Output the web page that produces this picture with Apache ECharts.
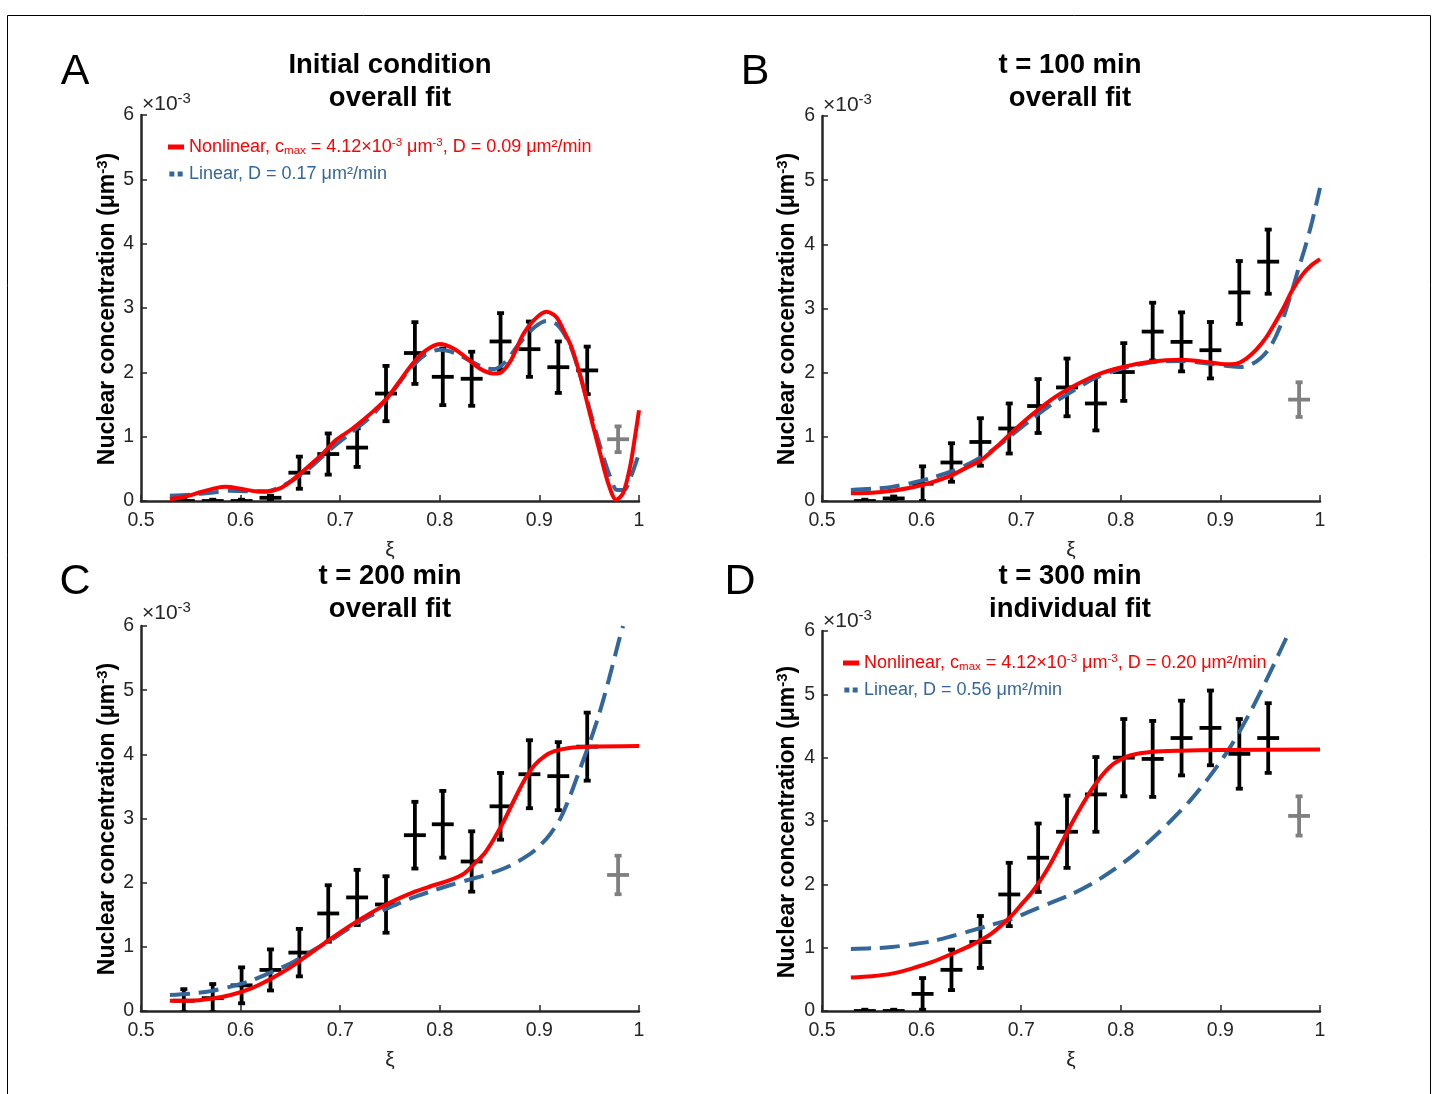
<!DOCTYPE html>
<html>
<head>
<meta charset="utf-8">
<script src="https://cdn.jsdelivr.net/npm/echarts@6/dist/echarts.min.js"></script>
<style>
html,body{margin:0;padding:0;background:#fff;}
#chart{width:1437px;height:1094px;}
</style>
</head>
<body>
<div id="chart"></div>
<script>
// ---- data ----
const xi = [0.543,0.572,0.601,0.630,0.659,0.688,0.717,0.746,0.775,0.803,0.832,0.861,0.890,0.919,0.948];
const xiOut = 0.979;
const xErr = 0.011;

const yA   = [0.00,0.00,0.00,0.05,0.44,0.73,0.83,1.67,2.30,1.93,1.90,2.48,2.36,2.08,2.03];
const errA = [0.02,0.02,0.02,0.03,0.25,0.32,0.30,0.43,0.48,0.44,0.42,0.44,0.43,0.40,0.37];
const outA = [0.96,0.20];

const yB   = [0.00,0.04,0.27,0.60,0.92,1.13,1.48,1.77,1.52,2.01,2.64,2.48,2.35,3.25,3.73];
const errB = [0.02,0.03,0.27,0.30,0.37,0.39,0.42,0.45,0.42,0.45,0.45,0.46,0.44,0.49,0.50];
const outB = [1.58,0.27];

const yC   = [0.16,0.20,0.40,0.64,0.91,1.52,1.77,1.66,2.74,2.91,2.33,3.19,3.69,3.66,4.12];
const errC = [0.18,0.22,0.28,0.32,0.37,0.44,0.43,0.44,0.52,0.52,0.47,0.52,0.53,0.53,0.53];
const outC = [2.12,0.30];

const yD   = [0.00,0.00,0.27,0.65,1.09,1.84,2.42,2.83,3.42,4.00,3.98,4.31,4.47,4.06,4.31];
const errD = [0.02,0.02,0.25,0.32,0.41,0.50,0.54,0.57,0.59,0.61,0.60,0.59,0.59,0.55,0.55];
const outD = [3.08,0.31];

const nonlinA = [[0.529,0.03],[0.545,0.07],[0.56,0.14],[0.575,0.2],[0.585,0.22],[0.60,0.19],[0.615,0.15],[0.625,0.145],[0.64,0.2],[0.65,0.3],[0.66,0.43],[0.68,0.7],[0.696,0.95],[0.71,1.1],[0.723,1.26],[0.735,1.42],[0.747,1.6],[0.76,1.87],[0.773,2.14],[0.785,2.33],[0.80,2.44],[0.815,2.36],[0.827,2.22],[0.84,2.06],[0.85,1.99],[0.858,1.98],[0.87,2.15],[0.884,2.6],[0.895,2.82],[0.907,2.94],[0.917,2.86],[0.924,2.66],[0.932,2.4],[0.941,1.95],[0.95,1.4],[0.96,0.8],[0.969,0.28],[0.977,0.02],[0.984,0.12],[0.991,0.53],[0.996,1.0],[1.0,1.41]];
const linA = [[0.529,0.08],[0.55,0.1],[0.57,0.13],[0.59,0.16],[0.61,0.15],[0.625,0.15],[0.64,0.22],[0.655,0.35],[0.67,0.52],[0.69,0.8],[0.71,1.05],[0.73,1.3],[0.75,1.65],[0.77,2.05],[0.785,2.27],[0.80,2.35],[0.815,2.3],[0.83,2.18],[0.845,2.07],[0.855,2.05],[0.865,2.15],[0.88,2.45],[0.895,2.7],[0.907,2.8],[0.918,2.74],[0.93,2.45],[0.94,2.0],[0.95,1.45],[0.96,0.9],[0.97,0.42],[0.978,0.17],[0.985,0.17],[0.992,0.38],[1.0,0.74]];

const nonlinB = [[0.529,0.12],[0.55,0.13],[0.57,0.16],[0.59,0.21],[0.61,0.29],[0.63,0.4],[0.645,0.52],[0.66,0.64],[0.675,0.84],[0.69,1.06],[0.705,1.27],[0.72,1.46],[0.735,1.63],[0.75,1.77],[0.775,1.96],[0.80,2.08],[0.83,2.17],[0.86,2.2],[0.89,2.16],[0.905,2.13],[0.916,2.14],[0.926,2.22],[0.936,2.36],[0.946,2.55],[0.955,2.78],[0.963,3.0],[0.972,3.28],[0.982,3.52],[0.991,3.67],[1.0,3.77]];
const linB = [[0.529,0.17],[0.55,0.19],[0.57,0.22],[0.59,0.28],[0.61,0.36],[0.63,0.46],[0.65,0.6],[0.67,0.78],[0.69,1.02],[0.71,1.27],[0.73,1.5],[0.75,1.7],[0.775,1.92],[0.80,2.06],[0.83,2.16],[0.86,2.18],[0.89,2.14],[0.91,2.1],[0.92,2.09],[0.93,2.12],[0.94,2.22],[0.95,2.4],[0.96,2.72],[0.97,3.18],[0.978,3.6],[0.985,3.95],[0.992,4.35],[1.0,4.88]];

const nonlinC = [[0.529,0.16],[0.55,0.16],[0.57,0.19],[0.59,0.25],[0.61,0.35],[0.63,0.5],[0.65,0.68],[0.67,0.9],[0.69,1.12],[0.71,1.33],[0.73,1.52],[0.75,1.69],[0.775,1.86],[0.79,1.94],[0.81,2.04],[0.825,2.15],[0.835,2.3],[0.845,2.46],[0.855,2.7],[0.865,2.98],[0.875,3.3],[0.885,3.6],[0.895,3.83],[0.905,3.97],[0.915,4.05],[0.93,4.1],[0.95,4.12],[1.0,4.13]];
const linC = [[0.529,0.25],[0.55,0.27],[0.57,0.31],[0.59,0.38],[0.61,0.47],[0.63,0.6],[0.65,0.74],[0.67,0.92],[0.69,1.1],[0.71,1.3],[0.73,1.48],[0.75,1.62],[0.77,1.75],[0.79,1.86],[0.81,1.96],[0.83,2.05],[0.85,2.14],[0.87,2.26],[0.89,2.44],[0.90,2.57],[0.91,2.74],[0.92,2.97],[0.93,3.32],[0.94,3.74],[0.95,4.16],[0.96,4.63],[0.97,5.18],[0.98,5.78],[0.984,6.0]];

const nonlinD = [[0.529,0.53],[0.55,0.55],[0.57,0.59],[0.59,0.67],[0.61,0.77],[0.63,0.9],[0.65,1.04],[0.67,1.22],[0.69,1.5],[0.70,1.68],[0.71,1.86],[0.72,2.08],[0.73,2.34],[0.74,2.64],[0.75,2.94],[0.76,3.22],[0.77,3.48],[0.78,3.7],[0.79,3.87],[0.80,3.97],[0.81,4.04],[0.83,4.09],[0.86,4.11],[0.9,4.12],[1.0,4.13]];
const linD = [[0.529,0.98],[0.55,0.99],[0.57,1.01],[0.59,1.05],[0.61,1.1],[0.63,1.18],[0.65,1.27],[0.67,1.36],[0.69,1.45],[0.71,1.58],[0.73,1.71],[0.75,1.84],[0.77,2.0],[0.79,2.2],[0.81,2.43],[0.83,2.7],[0.85,3.0],[0.87,3.33],[0.89,3.72],[0.91,4.17],[0.93,4.72],[0.95,5.35],[0.965,5.85],[0.97,6.0]];

const xTicks = [0.5,0.6,0.7,0.8,0.9,1];
const yTicks = [0,1,2,3,4,5,6];

const titles1 = ['Initial condition','t = 100 min','t = 200 min','t = 300 min'];
const titles2 = ['overall fit','overall fit','overall fit','individual fit'];
const letters = ['A','B','C','D'];

// ---- layout / style ----
const FONT = "'Liberation Sans', Arial, Helvetica, sans-serif";
const RED = '#ff0000';
const BLUE = '#33679b';
const AX = '#262626';
const grids = [
  {left:141, top:115, width:498, height:386},
  {left:822, top:116, width:498, height:385},
  {left:141, top:626, width:498, height:385},
  {left:822, top:631, width:498, height:380}
];

function errRender(color){
  return function(params, api){
    const x = api.value(0), y = api.value(1), e = api.value(2);
    const t = api.coord([x, y + e]);
    const b = api.coord([x, y - e]);
    const l = api.coord([x - xErr, y]);
    const r = api.coord([x + xErr, y]);
    const cap = 3.5;
    const st = {stroke: color, lineWidth: 3.8};
    return {type:'group', children:[
      {type:'line', shape:{x1:t[0],y1:t[1],x2:b[0],y2:b[1]}, style:st},
      {type:'line', shape:{x1:t[0]-cap,y1:t[1],x2:t[0]+cap,y2:t[1]}, style:st},
      {type:'line', shape:{x1:b[0]-cap,y1:b[1],x2:b[0]+cap,y2:b[1]}, style:st},
      {type:'line', shape:{x1:l[0],y1:l[1],x2:r[0],y2:r[1]}, style:st}
    ]};
  };
}

const ys = [yA,yB,yC,yD], errs = [errA,errB,errC,errD], outs = [outA,outB,outC,outD];
const nonl = [nonlinA,nonlinB,nonlinC,nonlinD], lins = [linA,linB,linC,linD];
const tag = ['A','B','C','D'];

const xAxes = grids.map((g,i)=>({
  type:'value', gridIndex:i, min:xTicks[0], max:xTicks[xTicks.length-1], interval:0.1,
  axisLine:{show:true, onZero:false, lineStyle:{color:AX, width:2.5}},
  axisTick:{show:true, inside:true, length:6, lineStyle:{color:AX, width:1.5}},
  axisLabel:{show:true, color:AX, fontSize:19.5, fontFamily:FONT, margin:10,
    formatter:v=>{ const r = Math.round(v*10)/10; return r===1?'1':r.toFixed(1); }},
  splitLine:{show:false},
  name:'ξ', nameLocation:'middle', nameGap:39,
  nameTextStyle:{color:AX, fontSize:21, fontFamily:FONT}
}));
const yAxes = grids.map((g,i)=>({
  type:'value', gridIndex:i, min:yTicks[0], max:yTicks[yTicks.length-1], interval:1,
  axisLine:{show:true, onZero:false, lineStyle:{color:AX, width:2.5}},
  axisTick:{show:true, inside:true, length:6, lineStyle:{color:AX, width:1.5}},
  axisLabel:{show:true, color:AX, fontSize:19.5, fontFamily:FONT, margin:7},
  splitLine:{show:false}
}));

const series = [];
grids.forEach((g,i)=>{
  series.push({
    type:'custom', name:'err'+tag[i], xAxisIndex:i, yAxisIndex:i, clip:true,
    renderItem: errRender('#000000'),
    encode:{x:0, y:1},
    data: xi.map((x,k)=>[x, ys[i][k], errs[i][k]]),
    z:2
  });
  series.push({
    type:'custom', name:'out'+tag[i], xAxisIndex:i, yAxisIndex:i, clip:true,
    renderItem: errRender('#808080'),
    encode:{x:0, y:1},
    data: [[xiOut, outs[i][0], outs[i][1]]],
    z:2
  });
  series.push({
    type:'line', name:'lin'+tag[i], xAxisIndex:i, yAxisIndex:i,
    data: lins[i], symbol:'none', smooth:0.3, clip:true,
    itemStyle:{color:BLUE},
    lineStyle:{color:BLUE, width:4, type:[20,9]},
    z:3
  });
  series.push({
    type:'line', name:'non'+tag[i], xAxisIndex:i, yAxisIndex:i,
    data: nonl[i], symbol:'none', smooth:0.3, clip:true,
    itemStyle:{color:RED},
    lineStyle:{color:RED, width:4},
    z:4
  });
});

const legendRich = {
  r:{color:RED, fontSize:18, fontFamily:FONT},
  rs:{color:RED, fontSize:11.5, fontFamily:FONT, verticalAlign:'bottom', padding:[8,0,0,0]},
  ru:{color:RED, fontSize:11.5, fontFamily:FONT, verticalAlign:'top', padding:[0,0,8,0]},
  b:{color:BLUE, fontSize:18, fontFamily:FONT}
};
const legendText = {
  nonA:'{r|Nonlinear, c}{rs|max}{r| = 4.12×10}{ru|-3}{r| μm}{ru|-3}{r|, D = 0.09 μm²/min}',
  linA:'{b|Linear, D = 0.17 μm²/min}',
  nonD:'{r|Nonlinear, c}{rs|max}{r| = 4.12×10}{ru|-3}{r| μm}{ru|-3}{r|, D = 0.20 μm²/min}',
  linD:'{b|Linear, D = 0.56 μm²/min}'
};
const blueIcon = 'path://M0,0H6V6H0Z M10,0H16V6H10Z';
function mkLegend(p, left, top){
  return {
    orient:'vertical', left:left, top:top, itemGap:8, itemWidth:16, itemHeight:5,
    selectedMode:false, padding:0,
    data:[{name:'non'+p, icon:'rect'}, {name:'lin'+p, icon:blueIcon}],
    formatter:n=>legendText[n],
    textStyle:{fontFamily:FONT, fontSize:18, rich:legendRich}
  };
}

const graphic = [
  {type:'rect', shape:{x:7.5, y:15.5, width:1423, height:1100}, style:{fill:'none', stroke:'#000', lineWidth:1}, silent:true}
];
const titlePos = [[390,65],[1070,65],[390,576],[1070,576]];
const letterPos = [[75,72],[755,72],[75,582],[740,582]];
const expPos = [[142,104],[823,105],[142,613],[823,621]];
const ylabPos = [[108,309],[788,309],[108,819],[788,822]];
for(let i=0;i<4;i++){
  graphic.push({type:'text', x:titlePos[i][0], y:titlePos[i][1], silent:true,
    style:{text:titles1[i], fill:'#000', font:'bold 27.5px '+FONT, align:'center', verticalAlign:'middle'}});
  graphic.push({type:'text', x:titlePos[i][0], y:titlePos[i][1]+33, silent:true,
    style:{text:titles2[i], fill:'#000', font:'bold 27.5px '+FONT, align:'center', verticalAlign:'middle'}});
  graphic.push({type:'text', x:letterPos[i][0], y:letterPos[i][1], silent:true,
    style:{text:letters[i], fill:'#000', font:'43px '+FONT, align:'center', verticalAlign:'middle'}});
  graphic.push({type:'text', x:expPos[i][0], y:expPos[i][1], silent:true,
    style:{text:'{a|×10}{s|-3}', align:'left', verticalAlign:'middle',
      rich:{a:{fontSize:21, fontFamily:FONT, fill:AX, color:AX},
            s:{fontSize:15, fontFamily:FONT, fill:AX, color:AX, verticalAlign:'top', padding:[0,0,11,0]}}}});
  graphic.push({type:'text', x:ylabPos[i][0], y:ylabPos[i][1], rotation:Math.PI/2, silent:true,
    style:{text:'{b|Nuclear concentration (μm}{s|-3}{b|)}', align:'center', verticalAlign:'middle',
      rich:{b:{fontSize:23, fontWeight:'bold', fontFamily:FONT, fill:'#000', color:'#000'},
            s:{fontSize:15, fontWeight:'bold', fontFamily:FONT, fill:'#000', color:'#000', verticalAlign:'top', padding:[0,0,10,0]}}}});
}

const chart = echarts.init(document.getElementById('chart'), null, {renderer:'canvas'});
chart.setOption({
  animation:false,
  backgroundColor:'#ffffff',
  grid: grids,
  xAxis: xAxes,
  yAxis: yAxes,
  legend: [mkLegend('A',168,137), mkLegend('D',843,653)],
  series: series,
  graphic: graphic
});
</script>
</body>
</html>
